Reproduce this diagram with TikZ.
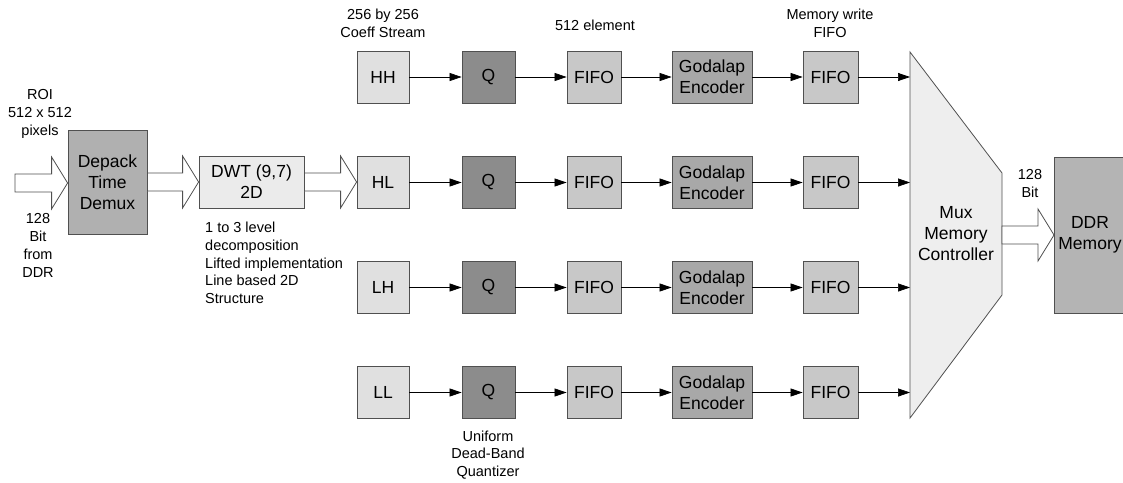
\documentclass[tikz,border=0pt]{standalone}
\usepackage{fontspec}
\setmainfont{Liberation Sans}
\usetikzlibrary{arrows.meta,calc}
\definecolor{csub}{HTML}{E0E0E0}
\definecolor{cq}{HTML}{8C8C8C}
\definecolor{cfifo}{HTML}{C8C8C8}
\definecolor{cgod}{HTML}{A8A8A8}
\definecolor{cdep}{HTML}{B0B0B0}
\definecolor{cdwt}{HTML}{EBEBEB}
\definecolor{cmux}{HTML}{EEEEEE}
\definecolor{cddr}{HTML}{B4B4B4}
\definecolor{cline}{HTML}{505050}
\tikzset{
  blk/.style={draw=cline, line width=0.8pt, inner sep=0pt, align=center,
    font=\fontsize{17.5}{21}\selectfont},
  lbl/.style={inner sep=0pt, align=center, font=\fontsize{14.5}{17.8}\selectfont},
  conn/.style={draw=black, line width=0.7pt, -{Triangle[length=12pt,width=8pt]}},
  barrow/.style={draw=cline, line width=0.8pt, fill=white, line join=miter},
}
\newcommand\blockarrow[2]{%
  \draw[barrow] let \p1=(#1), \p2=(#2) in
   (\x1,\y1+9pt) -- (\x2-16pt,\y1+9pt) -- (\x2-16pt,\y1+26pt) -- (\x2,\y1)
   -- (\x2-16pt,\y1-26pt) -- (\x2-16pt,\y1-9pt) -- (\x1,\y1-9pt) -- cycle;}
\begin{document}
\begin{tikzpicture}[x=1pt,y=-1pt]
\useasboundingbox (0,0) rectangle (1123,482);
% left part
\node[blk, fill=cdep, minimum width=79pt, minimum height=104pt] (dep) at (107.5,182) {Depack\\Time\\Demux};
\node[blk, fill=cdwt, minimum width=105pt, minimum height=52pt] (dwt) at (251.5,182) {DWT (9,7)\\2D};
\coordinate (in) at (15,183);
\node[lbl] (roi) at (40,114) {ROI\\512 x 512\\pixels};
\node[lbl] (bitin) at (38,245.5) {128\\Bit\\from\\DDR};
\node[lbl, align=left, anchor=west] (dwtnote) at (205,263) {1 to 3 level\\decomposition\\Lifted implementation\\Line based 2D\\Structure};
% rows
\foreach \r/\lab/\y in {1/HH/77, 2/HL/182.5, 3/LH/287.5, 4/LL/392.5}{
  \node[blk, fill=csub, minimum width=52pt, minimum height=52pt] (s\r) at (383,\y) {\lab};
  \node[blk, fill=cq, minimum width=53pt, minimum height=52pt] (q\r) at (488.5,\y) {Q};
  \node[blk, fill=cfifo, minimum width=54pt, minimum height=52pt] (f\r) at (594,\y) {FIFO};
  \node[blk, fill=cgod, minimum width=80pt, minimum height=52pt] (g\r) at (712,\y) {Godalap\\Encoder};
  \node[blk, fill=cfifo, minimum width=55pt, minimum height=52pt] (w\r) at (830.5,\y) {FIFO};
}
% mux
\draw[draw=cline, line width=0.8pt, fill=cmux] (910,52) coordinate (m1) -- (1002,173) -- (1002,295) -- (910,418) -- cycle;
\node[lbl, font=\fontsize{17.5}{21}\selectfont] (mux) at (956,234) {Mux\\Memory\\Controller};
\coordinate (mo) at (1002,235);
\node[blk, fill=cddr, minimum width=100pt, minimum height=156pt, anchor=west] (ddr) at (1054,235) {};
\node[lbl, font=\fontsize{17.5}{21}\selectfont] (ddrtext) at (1090,235) {DDR\\Memory};
% labels
\node[lbl] (coef) at (383,23) {256 by 256\\Coeff Stream};
\node[lbl] (elem) at (595,25) {512 element};
\node[lbl] (memw) at (830,23) {Memory write\\FIFO};
\node[lbl] (bitout) at (1030,183.5) {128\\Bit};
\node[lbl] (quant) at (488,455) {Uniform\\Dead-Band\\Quantizer};
% block arrows
\blockarrow{in}{dep.west}
\blockarrow{dep.east}{dwt.west}
\blockarrow{dwt.east}{s2.west}
\blockarrow{mo}{ddr.west}
% connectors
\foreach \r in {1,2,3,4}{
  \draw[conn] (s\r.east) -- (q\r.west);
  \draw[conn] (q\r.east) -- (f\r.west);
  \draw[conn] (f\r.east) -- (g\r.west);
  \draw[conn] (g\r.east) -- (w\r.west);
  \draw[conn] (w\r.east) -- (w\r.east -| m1);
}
\end{tikzpicture}
\end{document}
